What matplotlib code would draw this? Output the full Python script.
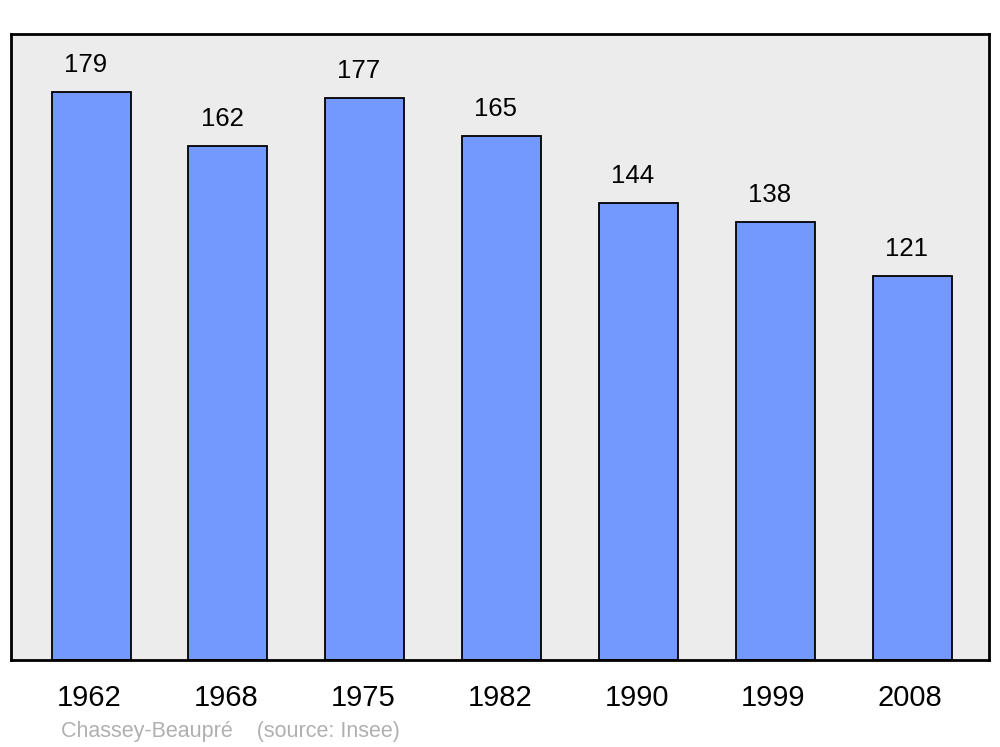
import matplotlib.pyplot as plt
import numpy as np

plt.rcParams['font.family'] = ['Liberation Sans', 'DejaVu Sans']

# data
years = ['1962', '1968', '1975', '1982', '1990', '1999', '2008']
population = [179, 162, 177, 165, 144, 138, 121]

fig = plt.figure(figsize=(10, 7.47), dpi=100)
ax = fig.add_axes([0.011, 1 - 660 / 747, 0.978, (660 - 34) / 747])
ax.set_facecolor('#ececec')

x = np.arange(len(years))
ax.bar(x, population, width=0.577, color='#7399ff', edgecolor='black',
       linewidth=1.3, zorder=2)
for xi, v in zip(x, population):
    ax.annotate(str(v), (xi, v), xytext=(-4.3, 11), textcoords='offset points',
                ha='center', va='bottom', fontsize=18.5)

ax.set_xlim(-0.585, 6.56)
ax.set_ylim(0, 197.3)
ax.set_yticks([])
ax.set_xticks(x - 0.015)
ax.set_xticklabels(years, fontsize=21)
ax.tick_params(axis='x', length=0, pad=17)
for s in ax.spines.values():
    s.set_linewidth(2)

fig.text(0.061, 1 - 731 / 747, 'Chassey-Beaupré    (source: Insee)',
         color='#b0b0b0', fontsize=15.5, va='center')

plt.savefig('out.png')
